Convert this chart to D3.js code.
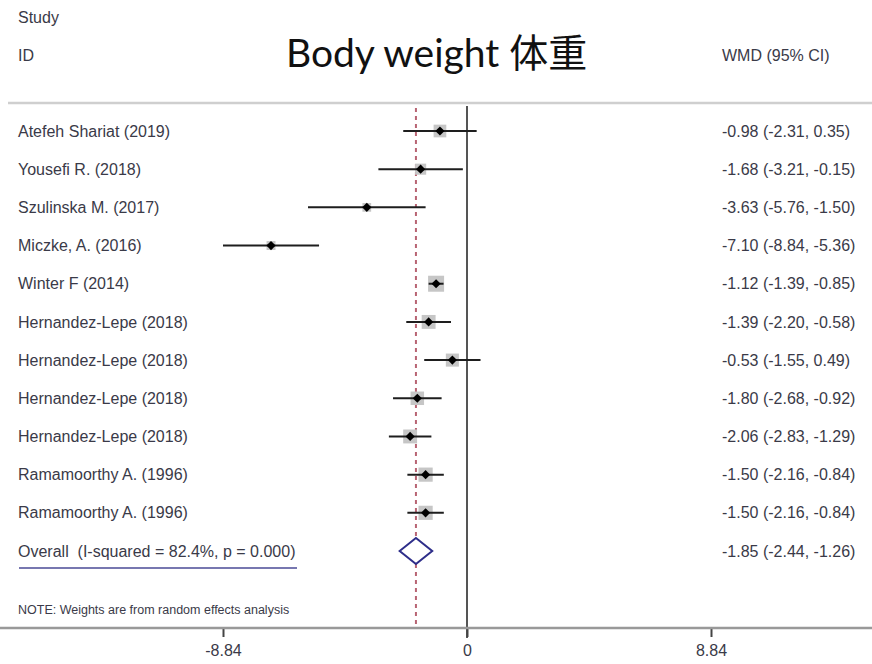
<!DOCTYPE html>
<html>
<head>
<meta charset="utf-8">
<script src="https://cdn.jsdelivr.net/npm/d3@7/dist/d3.min.js"></script>
<style>
  html, body { margin: 0; padding: 0; background: #fff; }
  svg { display: block; }
  .lbl { font-family: "Liberation Sans", Arial, sans-serif; font-size: 16px; fill: #3a3a48; }
</style>
</head>
<body>
<svg id="chart" width="872" height="664"></svg>
<script>
// Study rows of the forest plot
const studies = [
  "Atefeh Shariat (2019)",
  "Yousefi R. (2018)",
  "Szulinska M. (2017)",
  "Miczke, A. (2016)",
  "Winter F (2014)",
  "Hernandez-Lepe (2018)",
  "Hernandez-Lepe (2018)",
  "Hernandez-Lepe (2018)",
  "Hernandez-Lepe (2018)",
  "Ramamoorthy A. (1996)",
  "Ramamoorthy A. (1996)"
];
// Weighted mean differences and 95% CI bounds
const wmd   = [-0.98, -1.68, -3.63, -7.10, -1.12, -1.39, -0.53, -1.80, -2.06, -1.50, -1.50];
const ciLow = [-2.31, -3.21, -5.76, -8.84, -1.39, -2.20, -1.55, -2.68, -2.83, -2.16, -2.16];
const ciHigh= [ 0.35, -0.15, -1.50, -5.36, -0.85, -0.58,  0.49, -0.92, -1.29, -0.84, -0.84];
// Random-effects weights (%), used for the grey box sizes
const weights = [8.5, 6.5, 4.0, 4.2, 13.5, 10.2, 9.0, 9.6, 10.2, 10.6, 10.6];

// Pooled estimate
const overallLabel = "Overall  (I-squared = 82.4%, p = 0.000)";
const overall = { est: -1.85, lo: -2.44, hi: -1.26 };

// Axis ticks
const tickValues = [-8.84, 0, 8.84];
const tickLabels = ["-8.84", "0", "8.84"];

// Stata-style numbers with a plain hyphen for the sign
const f2 = d3.format(".2f");
const fmt = v => f2(v).replace("\u2212", "-");
const ciText = (e, l, h) => `${fmt(e)} (${fmt(l)}, ${fmt(h)})`;

const svg = d3.select("#chart");
const W = 872;

const x = d3.scaleLinear().domain([-8.84, 8.84]).range([223, 711]);
const rowIdx = d3.range(studies.length + 1);
const y = d3.scalePoint().domain(rowIdx).range([131, 551]);
const box = d3.scaleSqrt().domain([0, 13.5]).range([0, 16]);

const lineTop = 103, axisY = 628;

// Header
svg.append("text").attr("class", "lbl").attr("x", 18).attr("y", 17).attr("dy", "0.35em").text("Study");
svg.append("text").attr("class", "lbl").attr("x", 18).attr("y", 55).attr("dy", "0.35em").text("ID");
svg.append("text").attr("class", "lbl").attr("x", 722).attr("y", 55).attr("dy", "0.35em").text("WMD (95% CI)");
svg.append("text")
  .attr("x", 286).attr("y", 67)
  .attr("font-family", "Lato, 'Noto Sans CJK SC', sans-serif")
  .attr("font-size", 39)
  .attr("fill", "#111")
  .text("Body weight 体重");

// Header rule
svg.append("line")
  .attr("x1", 8).attr("x2", W).attr("y1", lineTop).attr("y2", lineTop)
  .attr("stroke", "#cfcfcf").attr("stroke-width", 2.5);

// Null line
svg.append("line")
  .attr("x1", x(0)).attr("x2", x(0)).attr("y1", lineTop + 3).attr("y2", axisY + 10)
  .attr("stroke", "#555").attr("stroke-width", 2);

// Pooled-effect reference line
svg.append("line")
  .attr("x1", x(overall.est)).attr("x2", x(overall.est))
  .attr("y1", lineTop + 5).attr("y2", axisY)
  .attr("stroke", "#b86473").attr("stroke-width", 2)
  .attr("stroke-dasharray", "4,4");

// Study rows
const rows = svg.append("g").selectAll("g")
  .data(studies.map((s, i) => ({ s, e: wmd[i], l: ciLow[i], h: ciHigh[i], w: weights[i], i })))
  .join("g");

rows.append("rect")
  .attr("x", d => x(d.e) - box(d.w) / 2)
  .attr("y", d => y(d.i) - box(d.w) / 2)
  .attr("width", d => box(d.w))
  .attr("height", d => box(d.w))
  .attr("fill", "#c6c6c6");

rows.append("line")
  .attr("x1", d => x(d.l)).attr("x2", d => x(d.h))
  .attr("y1", d => y(d.i)).attr("y2", d => y(d.i))
  .attr("stroke", "#1e1e1e").attr("stroke-width", 2);

// Point estimate: small square turned 45 degrees
rows.append("path")
  .attr("transform", d => `translate(${x(d.e)},${y(d.i)}) rotate(45)`)
  .attr("d", d3.symbol(d3.symbolSquare).size(42))
  .attr("fill", "#000");

rows.append("text").attr("class", "lbl")
  .attr("x", 18).attr("y", d => y(d.i)).attr("dy", "0.35em")
  .text(d => d.s);

rows.append("text").attr("class", "lbl")
  .attr("x", 722).attr("y", d => y(d.i)).attr("dy", "0.35em")
  .text(d => ciText(d.e, d.l, d.h));

// Overall row
const oy = y(studies.length);
svg.append("path")
  .attr("d", `M${x(overall.lo)},${oy} L${x(overall.est)},${oy - 13} L${x(overall.hi)},${oy} L${x(overall.est)},${oy + 13} Z`)
  .attr("fill", "#fff").attr("stroke", "#2e2e8a").attr("stroke-width", 2);
svg.append("text").attr("class", "lbl")
  .attr("x", 18).attr("y", oy).attr("dy", "0.35em")
  .style("white-space", "pre")
  .attr("xml:space", "preserve")
  .text(overallLabel);
svg.append("line")
  .attr("x1", 19).attr("x2", 297).attr("y1", oy + 17).attr("y2", oy + 17)
  .attr("stroke", "#4a4a96").attr("stroke-width", 1.5);
svg.append("text").attr("class", "lbl")
  .attr("x", 722).attr("y", oy).attr("dy", "0.35em")
  .text(ciText(overall.est, overall.lo, overall.hi));

// Note
svg.append("text").attr("class", "lbl")
  .attr("x", 18).attr("y", 610).attr("dy", "0.35em")
  .style("font-size", "12.5px")
  .text("NOTE: Weights are from random effects analysis");

// X axis
const axis = svg.append("g")
  .attr("transform", `translate(0,${axisY})`)
  .call(d3.axisBottom(x).tickValues(tickValues).tickSize(9).tickPadding(8)
    .tickFormat((d, i) => tickLabels[i]));
axis.select(".domain").remove();
axis.selectAll(".tick line").attr("stroke", "#444").attr("stroke-width", 2);
axis.selectAll(".tick text")
  .attr("font-family", "Liberation Sans, Arial, sans-serif")
  .attr("font-size", 16).attr("fill", "#3a3a48");
svg.append("line")
  .attr("x1", 0).attr("x2", W).attr("y1", axisY).attr("y2", axisY)
  .attr("stroke", "#999").attr("stroke-width", 2.5);
</script>
</body>
</html>
